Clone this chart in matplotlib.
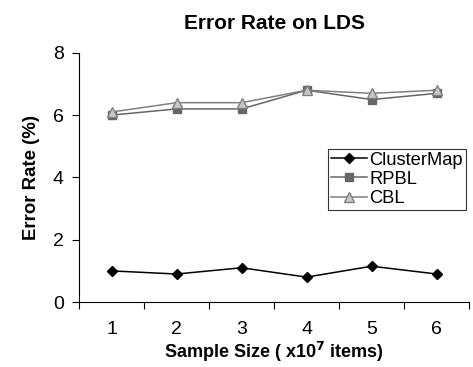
import numpy as np
import matplotlib.pyplot as plt

plt.rcParams['font.family'] = ['Liberation Sans', 'DejaVu Sans']

sizes = [1, 2, 3, 4, 5, 6]
cluster_map = [1.0, 0.9, 1.1, 0.8, 1.15, 0.9]
rpbl = [6.0, 6.2, 6.2, 6.8, 6.5, 6.7]
cbl = [6.1, 6.4, 6.4, 6.8, 6.7, 6.8]

fig = plt.figure(figsize=(4.73, 3.67), dpi=100)
ax = fig.add_axes([0.167, 0.177, 0.825, 0.679])

x = np.arange(1, len(sizes) + 1)
ax.plot(x, cluster_map, color='black', marker='D', markersize=5.5, lw=1.1, label='ClusterMap')
ax.plot(x, rpbl, color='#666666', marker='s', markersize=5.5, lw=1.1, label='RPBL')
ax.plot(x, cbl, color='#808080', marker='^', markersize=6.5, markerfacecolor='#c8c8c8',
        markeredgecolor='#808080', lw=1.1, label='CBL')

ax.set_xlim(0.5, 6.5)
ax.set_ylim(0, 8)
ax.set_yticks([0, 2, 4, 6, 8])
ax.set_xticks(np.arange(0.5, 7.0, 1.0))
ax.set_xticklabels([])
ax.set_xticks(x, minor=True)
ax.set_xticklabels([str(s) for s in sizes], minor=True)
ax.tick_params(axis='x', which='minor', length=0, labelsize=14, pad=14)
ax.tick_params(axis='x', which='major', length=5, direction='out')
ax.tick_params(axis='y', length=5, labelsize=14, pad=6)

for side in ('top', 'right'):
    ax.spines[side].set_visible(False)

ax.set_title('Error Rate on LDS', fontsize=15, fontweight='bold', pad=17)
ax.set_xlabel('Sample Size ( x10$^{\\mathbf{7}}$ items)', fontsize=13, fontweight='bold', labelpad=1)
ax.set_ylabel('Error Rate (%)', fontsize=13.4, fontweight='bold', labelpad=9)

leg = ax.legend(loc='upper left', bbox_to_anchor=(0.638, 0.615), fontsize=13.2, frameon=True,
                fancybox=False, edgecolor='black', handlelength=2.0, handletextpad=0.1,
                labelspacing=0.12, borderpad=0.15, borderaxespad=0)
leg.get_frame().set_linewidth(0.8)

fig.savefig('out.png', dpi=100)
